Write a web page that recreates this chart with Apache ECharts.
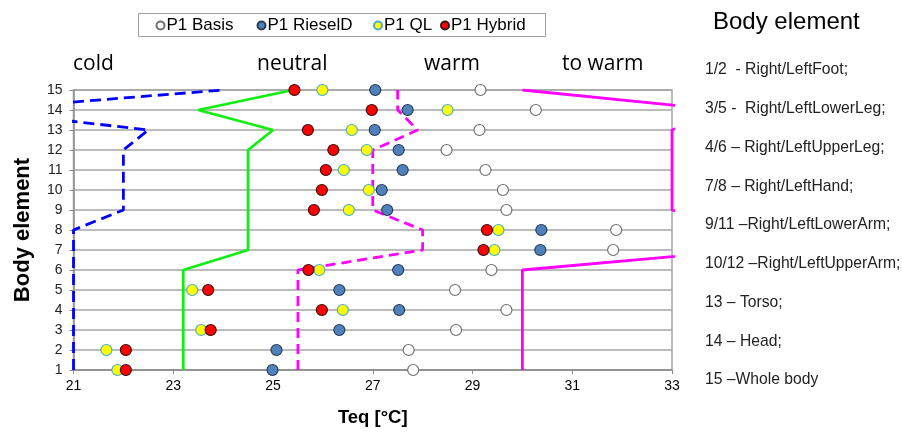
<!DOCTYPE html>
<html>
<head>
<meta charset="utf-8">
<script src="https://cdn.jsdelivr.net/npm/echarts@6/dist/echarts.min.js"></script>
<style>
  html, body { margin: 0; padding: 0; background: #fff; }
  #chart { width: 902px; height: 432px; }
</style>
</head>
<body>
<div id="chart"></div>
<script>
// body element rows (y values)
const rows = [1, 2, 3, 4, 5, 6, 7, 8, 9, 10, 11, 12, 13, 14, 15];
const xTicks = [21, 23, 25, 27, 29, 31, 33];

// Teq per body element, rows 1..15
const basis  = [27.81, 27.72, 28.67, 29.68, 28.65, 29.38, 31.82, 31.88, 29.68, 29.61, 29.26, 28.48, 29.14, 30.27, 29.16];
const riesel = [24.99, 25.07, 26.33, 27.53, 26.33, 27.51, 30.36, 30.38, 27.29, 27.18, 27.60, 27.52, 27.04, 27.70, 27.05];
const ql     = [21.88, 21.66, 23.56, 26.40, 23.38, 25.93, 29.44, 29.52, 26.52, 26.92, 26.42, 26.88, 26.58, 28.50, 25.99];
const hybrid = [22.05, 22.05, 23.75, 25.98, 23.70, 25.71, 29.22, 29.29, 25.82, 25.98, 26.06, 26.21, 25.70, 26.98, 25.43];

// comfort zone limits, rows 1..15
const coldLimit    = [21, 21, 21, 21, 21, 21, 21, 21, 22, 22, 22, 22, 22.5, 19, 24];
const neutralLimit = [23.2, 23.2, 23.2, 23.2, 23.2, 23.2, 24.5, 24.5, 24.5, 24.5, 24.5, 24.5, 25.0, 23.5, 25.4];
const warmLimit    = [25.5, 25.5, 25.5, 25.5, 25.5, 25.5, 28, 28, 27, 27, 27, 27, 27.9, 27.5, 27.5];
const hotLimit     = [30, 30, 30, 30, 30, 30, 34.5, 34.5, 33, 33, 33, 33, 33, 34, 30];

const seriesNames = ['P1 Basis', 'P1 RieselD', 'P1 QL', 'P1 Hybrid'];
const zoneNames = ['cold', 'neutral', 'warm', 'to warm'];
const bodyTitle = 'Body element';
const bodyLabels = [
  '1/2  - Right/LeftFoot;',
  '3/5 -  Right/LeftLowerLeg;',
  '4/6 \u2013 Right/LeftUpperLeg;',
  '7/8 \u2013 Right/LeftHand;',
  '9/11 \u2013Right/LeftLowerArm;',
  '10/12 \u2013Right/LeftUpperArm;',
  '13 \u2013 Torso;',
  '14 \u2013 Head;',
  '15 \u2013Whole body'
];

const pairs = (xs) => xs.map((x, i) => [x, rows[i]]);
const font = 'Liberation Sans, Arial, sans-serif';

const lineSeries = (name, xs, color, type) => ({
  name: name,
  type: 'line',
  data: pairs(xs),
  showSymbol: false,
  symbol: 'none',
  silent: true,
  clip: true,
  z: 1,
  lineStyle: { color: color, width: 2.8, type: type }
});

const dotSeries = (name, xs, fill, stroke, z) => ({
  name: name,
  type: 'scatter',
  data: pairs(xs),
  symbol: 'circle',
  symbolSize: 11,
  clip: false,
  z: z,
  itemStyle: { color: fill, borderColor: stroke, borderWidth: 1.2, opacity: 1 }
});

// one legend per item so each sits where it does in the picture
const legendLeft = [155.5, 256.5, 373, 440];
const legends = seriesNames.map((n, i) => ({
  data: [n],
  left: legendLeft[i],
  top: 17,
  padding: 0,
  itemWidth: 8,
  itemHeight: 8,
  icon: 'circle',
  textStyle: { fontSize: 17, fontFamily: font, color: '#000', padding: [0, 0, 0, -3] }
}));

const zoneX = [73, 257, 424, 562];
const graphics = [{
  type: 'rect',
  shape: { x: 138.5, y: 13.5, width: 407, height: 23 },
  style: { fill: 'none', stroke: '#a0a0a0', lineWidth: 1 }
}];
zoneNames.forEach((t, i) => {
  graphics.push({
    type: 'text', x: zoneX[i], y: 64,
    style: { text: t, font: '21px "Open Sans", sans-serif', fill: '#000', verticalAlign: 'middle' }
  });
});
graphics.push({
  type: 'text', x: 713, y: 22,
  style: { text: bodyTitle, font: '24px ' + font, fill: '#000', verticalAlign: 'middle' }
});
bodyLabels.forEach((t, i) => {
  graphics.push({
    type: 'text', x: 705, y: 70 + i * 38.75,
    style: { text: t, font: '15.7px ' + font, fill: '#222', verticalAlign: 'middle' }
  });
});

const options = {
  animation: false,
  backgroundColor: '#fff',
  legend: legends,
  grid: {
    left: 73.5,
    right: 230,
    top: 90,
    bottom: 61.3,
    show: true,
    borderColor: '#a6a6a6',
    borderWidth: 1.5
  },
  xAxis: {
    type: 'value',
    min: 21,
    max: 33,
    name: 'Teq [°C]',
    nameLocation: 'middle',
    nameGap: 38,
    nameTextStyle: { fontSize: 18.5, fontWeight: 'bold', fontFamily: font, color: '#000' },
    splitLine: { show: false },
    axisLine: { lineStyle: { color: '#8c8c8c', width: 1.5 } },
    axisTick: { show: true, length: 4, customValues: xTicks, lineStyle: { color: '#8c8c8c' } },
    axisLabel: { customValues: xTicks, fontSize: 14, fontFamily: font, color: '#000', margin: 9 }
  },
  yAxis: {
    type: 'value',
    min: 1,
    max: 15,
    interval: 1,
    name: 'Body element',
    nameLocation: 'middle',
    nameGap: 40,
    nameTextStyle: { fontSize: 22, fontWeight: 'bold', fontFamily: font, color: '#000', padding: [0, 0, 0, 0] },
    axisLine: { show: true, lineStyle: { color: '#8c8c8c', width: 1.5 } },
    axisTick: { show: true, length: 4, lineStyle: { color: '#8c8c8c' } },
    axisLabel: { fontSize: 14, fontFamily: font, color: '#222', margin: 11 },
    splitLine: { show: true, lineStyle: { color: '#a6a6a6', width: 1.5 } }
  },
  graphic: graphics,
  series: [
    lineSeries('cold limit', coldLimit, '#0000ff', [11, 6]),
    lineSeries('neutral limit', neutralLimit, '#11ee11', 'solid'),
    lineSeries('warm limit', warmLimit, '#ff00ff', [10, 6]),
    lineSeries('hot limit', hotLimit, '#ff00ff', 'solid'),
    dotSeries(seriesNames[0], basis, '#ffffff', '#707070', 3),
    dotSeries(seriesNames[1], riesel, '#4f81bd', '#2a3c55', 4),
    dotSeries(seriesNames[2], ql, '#ffff00', '#4bacc6', 5),
    dotSeries(seriesNames[3], hybrid, '#ff0000', '#3a1010', 6)
  ]
};

const chart = echarts.init(document.getElementById('chart'));
chart.setOption(options);
window.addEventListener('resize', () => {
  chart.resize();
});
</script>
</body>
</html>
